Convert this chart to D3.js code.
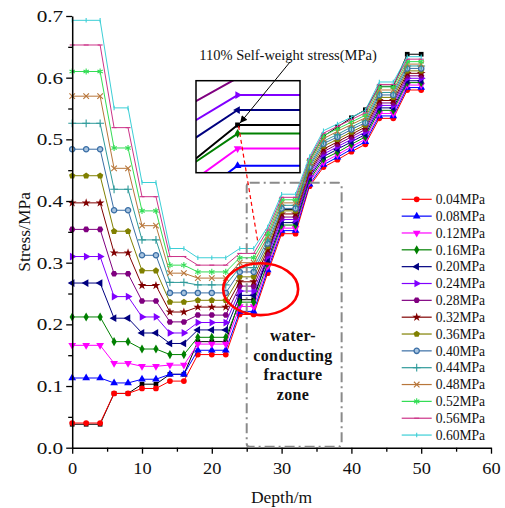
<!DOCTYPE html>
<html><head><meta charset="utf-8">
<script src="https://cdn.jsdelivr.net/npm/d3@7"></script>
<style>
body{margin:0;background:#fff;}
svg{display:block;font-family:"Liberation Serif","Times New Roman",serif;}
</style></head><body>
<svg id="chart" width="505" height="508"></svg>
<script>
// ---------------- DATA ----------------
const depths = [0,2,4,6,8,10,12,14,16,18,20,22,24,26,28,30,32,34,36,38,40,42,44,46,48,50];
const seriesNames = ["0.04MPa","0.08MPa","0.12MPa","0.16MPa","0.20MPa","0.24MPa","0.28MPa","0.32MPa","0.36MPa","0.40MPa","0.44MPa","0.48MPa","0.52MPa","0.56MPa","0.60MPa"];
const s004 = [.040,.040,.040,.088,.088,.096,.096,.108,.108,.151,.151,.151,.216,.216,.283,.347,.347,.424,.455,.467,.480,.492,.534,.534,.580,.580];
const s008 = [.113,.113,.113,.105,.105,.111,.111,.119,.119,.158,.158,.158,.221,.221,.288,.352,.352,.427,.459,.471,.484,.496,.538,.538,.584,.584];
const s012 = [.166,.166,.166,.137,.137,.132,.132,.134,.134,.168,.168,.168,.229,.229,.294,.356,.356,.431,.463,.475,.488,.500,.542,.542,.588,.588];
const s016 = [.212,.212,.212,.172,.172,.160,.160,.151,.151,.179,.179,.179,.236,.236,.299,.361,.361,.434,.468,.479,.492,.504,.547,.547,.592,.592];
const s020 = [.267,.267,.267,.210,.210,.186,.186,.169,.169,.191,.191,.191,.247,.247,.304,.365,.365,.438,.472,.484,.496,.508,.551,.551,.595,.595];
const s024 = [.310,.310,.310,.245,.245,.212,.212,.186,.186,.203,.203,.203,.254,.254,.310,.370,.370,.441,.476,.488,.500,.512,.555,.555,.599,.599];
const s028 = [.354,.354,.354,.282,.282,.238,.238,.204,.204,.215,.215,.215,.262,.262,.315,.374,.374,.445,.480,.492,.504,.516,.559,.559,.603,.603];
const s032 = [.397,.397,.397,.316,.316,.263,.263,.220,.220,.228,.228,.228,.269,.269,.321,.379,.379,.448,.484,.496,.508,.520,.563,.563,.607,.607];
const s036 = [.441,.441,.441,.351,.351,.287,.287,.236,.236,.239,.239,.239,.277,.277,.326,.384,.384,.451,.489,.500,.512,.523,.568,.568,.611,.611];
const s040 = [.484,.484,.484,.385,.385,.312,.312,.251,.251,.251,.251,.251,.285,.285,.331,.388,.388,.455,.493,.504,.516,.527,.572,.572,.615,.615];
const s044 = [.526,.526,.526,.419,.419,.337,.337,.268,.268,.264,.264,.264,.292,.292,.337,.393,.393,.458,.497,.508,.520,.531,.576,.576,.619,.619];
const s048 = [.570,.570,.570,.453,.453,.360,.360,.283,.283,.275,.275,.275,.300,.300,.342,.397,.397,.462,.501,.513,.524,.535,.580,.580,.622,.622];
const s052 = [.610,.610,.610,.486,.486,.384,.384,.296,.296,.285,.285,.285,.308,.308,.347,.402,.402,.465,.506,.517,.528,.539,.585,.585,.626,.626];
const s056 = [.653,.653,.653,.519,.519,.407,.407,.310,.310,.296,.296,.296,.315,.315,.353,.406,.406,.469,.510,.521,.532,.543,.589,.589,.630,.630];
const s060 = [.693,.693,.693,.551,.551,.430,.430,.323,.323,.308,.308,.308,.323,.323,.358,.411,.411,.472,.514,.525,.536,.547,.593,.593,.634,.634];
const selfWeight110 = [.038,.038,.038,.088,.088,.103,.103,.119,.119,.172,.172,.172,.240,.240,.312,.386,.386,.466,.505,.520,.535,.548,.586,.586,.638,.638];
const xTicks = [0,10,20,30,40,50,60];
const xMinorTicks = [5,15,25,35,45,55];
const yTicks = [0,0.1,0.2,0.3,0.4,0.5,0.6,0.7];
const yMinorTicks = [0.05,0.15,0.25,0.35,0.45,0.55,0.65];
const annotationText = "110% Self-weight stress(MPa)";
const zoneLabel = ["water-","conducting","fracture","zone"];
const zoneRange = {depthFrom:25.0, depthTo:38.6, stressTop:0.4295};
const insetDomainX = [23.54, 24.69];
const insetDomainY = [0.2177, 0.2607];
// --------------------------------------

const allSeries = [s004,s008,s012,s016,s020,s024,s028,s032,s036,s040,s044,s048,s052,s056,s060];

const hexagon = {draw(ctx,size){const r=Math.sqrt(size/(1.5*Math.sqrt(3)))*1.05;for(let i=0;i<6;i++){const a=Math.PI/3*i;const px=r*Math.cos(a),py=r*Math.sin(a);i?ctx.lineTo(px,py):ctx.moveTo(px,py);}ctx.closePath();}};
const pentagon = {draw(ctx,size){const r=Math.sqrt(size/2.378)*1.05;for(let i=0;i<5;i++){const a=-Math.PI/2+2*Math.PI/5*i;const px=r*Math.cos(a),py=r*Math.sin(a);i?ctx.lineTo(px,py):ctx.moveTo(px,py);}ctx.closePath();}};
const hbar = {draw(ctx,size){const r=Math.sqrt(size)/2;ctx.moveTo(-r,0);ctx.lineTo(r,0);}};
const vbar = {draw(ctx,size){const r=Math.sqrt(size)/2;ctx.moveTo(0,-r);ctx.lineTo(0,r);}};

const styles = [
 {color:"#FF0000", sym:d3.symbolCircle, rot:0, size:26},
 {color:"#0000FF", sym:d3.symbolTriangle, rot:0, size:26},
 {color:"#FF00FF", sym:d3.symbolTriangle, rot:180, size:26},
 {color:"#008000", sym:d3.symbolDiamond, rot:0, size:24},
 {color:"#000080", sym:d3.symbolTriangle, rot:-90, size:26},
 {color:"#8000FF", sym:d3.symbolTriangle, rot:90, size:26},
 {color:"#800080", sym:hexagon, rot:0, size:24},
 {color:"#800000", sym:d3.symbolStar, rot:0, size:24},
 {color:"#808000", sym:pentagon, rot:0, size:24},
 {color:"#3A6EA5", sym:d3.symbolCircle, rot:0, size:22, fill:"#A8C4E0", stroke:true},
 {color:"#2E9A9A", sym:d3.symbolPlus, rot:0, size:22, open:true},
 {color:"#B8763A", sym:d3.symbolTimes, rot:0, size:22, open:true},
 {color:"#33DD55", sym:d3.symbolAsterisk, rot:0, size:26, open:true},
 {color:"#CC3388", sym:hbar, rot:0, size:25, open:true},
 {color:"#3CCFD6", sym:vbar, rot:0, size:20, open:true}
];
const blackStyle = {color:"#000000", sym:d3.symbolSquare, rot:0, size:22};

const svg = d3.select("#chart");
const x = d3.scaleLinear().domain([0,60]).range([72.2,491]);
const y = d3.scaleLinear().domain([0,0.7]).range([447.7,16]);

function drawSymbol(g, st, px, py, scaleF){
  const sz = st.size*(scaleF||1);
  const p = g.append("path").attr("d", d3.symbol(st.sym, sz)())
    .attr("transform", `translate(${px},${py}) rotate(${st.rot})`);
  if(st.open){ p.attr("fill","none").attr("stroke",st.color).attr("stroke-width",1.1); }
  else if(st.stroke){ p.attr("fill",st.fill).attr("stroke",st.color).attr("stroke-width",1.3); }
  else { p.attr("fill",st.color).attr("stroke","none"); }
}

function drawSeries(g, vals, st, xs, ys, lw, symScale){
  const pts = depths.map((d,i)=>[xs(d), ys(vals[i])]);
  g.append("path").attr("d", d3.line()(pts)).attr("fill","none")
    .attr("stroke", st.color).attr("stroke-width", lw).attr("stroke-linejoin","round");
  pts.forEach(p=>drawSymbol(g, st, p[0], p[1], symScale));
}

// main series
const gMain = svg.append("g");
drawSeries(gMain, selfWeight110, blackStyle, x, y, 1, 1);
allSeries.forEach((s,i)=>drawSeries(gMain, s, styles[i], x, y, 1, 1));

// axes
const gx = svg.append("g").attr("transform",`translate(0,${y(0)})`)
  .call(d3.axisBottom(x).tickValues(xTicks).tickSize(6).tickSizeOuter(0).tickFormat(d3.format("d")));
const gxm = svg.append("g").attr("transform",`translate(0,${y(0)})`)
  .call(d3.axisBottom(x).tickValues(xMinorTicks).tickSize(4).tickSizeOuter(0).tickFormat(""));
const gy = svg.append("g").attr("transform",`translate(${x(0)},0)`)
  .call(d3.axisLeft(y).tickValues(yTicks).tickSize(6).tickSizeOuter(0).tickFormat(d3.format(".1f")));
const gym = svg.append("g").attr("transform",`translate(${x(0)},0)`)
  .call(d3.axisLeft(y).tickValues(yMinorTicks).tickSize(4).tickSizeOuter(0).tickFormat(""));
[gx,gxm,gy,gym].forEach(g=>{
  g.select(".domain").attr("stroke","#000").attr("stroke-width",1.5);
  g.selectAll(".tick line").attr("stroke","#000").attr("stroke-width",1.3);
});
gxm.select(".domain").remove(); gym.select(".domain").remove();
// tick labels: slightly wide serif as in the reference
gx.selectAll(".tick text").attr("font-family","Liberation Serif").attr("font-size",17).attr("fill","#111")
  .attr("y",null).attr("dy",null).attr("transform","translate(0,26.5) scale(1.08,1)");
gy.selectAll(".tick text").attr("font-family","Liberation Serif").attr("font-size",17).attr("fill","#111")
  .attr("x",null).attr("dy",null).attr("transform","translate(-9,5.6) scale(1.25,1)");

svg.append("text").attr("x", (x(0)+x(60))/2).attr("y",503).attr("text-anchor","middle")
  .attr("font-size",17.5).attr("fill","#111").text("Depth/m");
svg.append("text").attr("transform",`translate(30,${(y(0)+y(0.7))/2}) rotate(-90)`).attr("text-anchor","middle")
  .attr("font-size",17.5).attr("fill","#111").text("Stress/MPa");

// water-conducting fracture zone box
svg.append("rect").attr("x", x(zoneRange.depthFrom)).attr("y", y(zoneRange.stressTop))
  .attr("width", x(zoneRange.depthTo)-x(zoneRange.depthFrom)).attr("height", y(0)-y(zoneRange.stressTop)-1)
  .attr("rx",3).attr("fill","none").attr("stroke","#8a8a8a").attr("stroke-width",2)
  .attr("stroke-dasharray","10,4,2,4");
const zt = svg.append("text").attr("text-anchor","middle").attr("font-weight","bold").attr("font-size",16).attr("fill","#111").attr("letter-spacing",0.4);
zoneLabel.forEach((t,i)=>zt.append("tspan").attr("x",293).attr("y",341+i*19.5).text(t));

// red ellipse
svg.append("ellipse").attr("cx", x(27.0)).attr("cy", y(0.257)).attr("rx", x(27.0+5.37)-x(27.0)).attr("ry", y(0)-y(0.042))
  .attr("fill","none").attr("stroke","#FF0000").attr("stroke-width",2.6);

// inset
const ix = d3.scaleLinear().domain(insetDomainX).range([196,300]);
const iy = d3.scaleLinear().domain(insetDomainY).range([172.7,80.7]);
svg.append("defs").append("clipPath").attr("id","insetClip").append("rect")
  .attr("x",196).attr("y",80.7).attr("width",104).attr("height",92);
svg.append("rect").attr("x",196).attr("y",80.7).attr("width",104).attr("height",92).attr("fill","#fff");
const gIn = svg.append("g").attr("clip-path","url(#insetClip)");
allSeries.forEach((s,i)=>{ if(i<=6) drawSeries(gIn, s, styles[i], ix, iy, 2, 1); });
drawSeries(gIn, selfWeight110, blackStyle, ix, iy, 2, 1.1);
svg.append("rect").attr("x",196).attr("y",80.7).attr("width",104).attr("height",92)
  .attr("fill","none").attr("stroke","#000").attr("stroke-width",1.5);

// red dashed connector
svg.append("line").attr("x1", ix(24)+1).attr("y1", iy(selfWeight110[12])+1)
  .attr("x2", x(26.6)).attr("y2", y(0.333))
  .attr("stroke","#FF0000").attr("stroke-width",1.2).attr("stroke-dasharray","4,3");

// annotation text + arrow
svg.append("text").attr("x",199.3).attr("y",59.5).attr("font-size",14.5).attr("fill","#111").text(annotationText);
svg.select("defs").append("marker").attr("id","arrow").attr("viewBox","0 0 10 10").attr("refX",10).attr("refY",5)
  .attr("markerWidth",9).attr("markerHeight",7).attr("orient","auto").attr("markerUnits","userSpaceOnUse")
  .append("path").attr("d","M0,0 L10,5 L0,10 z").attr("fill","#000");
svg.append("line").attr("x1",290).attr("y1",62).attr("x2", ix(24)+2.5).attr("y2", iy(selfWeight110[12])-2)
  .attr("stroke","#000").attr("stroke-width",1).attr("marker-end","url(#arrow)");

// legend
const lg = svg.append("g");
seriesNames.forEach((n,i)=>{
  const yy = 199.3 + i*16.84;
  lg.append("line").attr("x1",401.7).attr("x2",431.7).attr("y1",yy).attr("y2",yy)
    .attr("stroke",styles[i].color).attr("stroke-width",1.2);
  drawSymbol(lg, styles[i], 416.7, yy, 1);
  lg.append("text").attr("x",435.7).attr("y",yy).attr("dy","0.35em").attr("font-size",13.6).attr("fill","#111").text(n);
});
</script>
</body></html>
